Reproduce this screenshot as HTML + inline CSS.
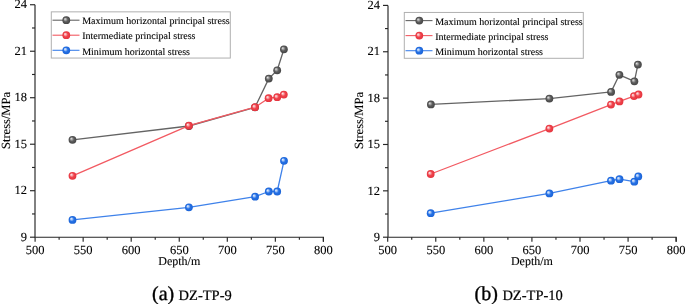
<!DOCTYPE html>
<html><head><meta charset="utf-8"><style>
html,body{margin:0;padding:0;background:#fff;}
svg{display:block;filter:blur(0.35px);}
text{font-family:"Liberation Serif",serif;fill:#000;text-rendering:geometricPrecision;stroke:#000;stroke-width:0.1px;}
</style></head><body>
<svg width="685" height="304" viewBox="0 0 685 304">
<defs>
<radialGradient id="gk" cx="0.5" cy="0.5" r="0.5" fx="0.32" fy="0.33">
<stop offset="0" stop-color="#ececec"/><stop offset="0.25" stop-color="#a8a8a8"/><stop offset="0.55" stop-color="#5e5e5e"/><stop offset="1" stop-color="#444"/></radialGradient>
<radialGradient id="gr" cx="0.5" cy="0.5" r="0.5" fx="0.32" fy="0.33">
<stop offset="0" stop-color="#fff0f1"/><stop offset="0.25" stop-color="#f8acb0"/><stop offset="0.55" stop-color="#f0444d"/><stop offset="1" stop-color="#e4333d"/></radialGradient>
<radialGradient id="gb" cx="0.5" cy="0.5" r="0.5" fx="0.32" fy="0.33">
<stop offset="0" stop-color="#eef4fe"/><stop offset="0.25" stop-color="#a6c6f6"/><stop offset="0.55" stop-color="#2672e6"/><stop offset="1" stop-color="#1b63d6"/></radialGradient>
</defs>
<rect width="685" height="304" fill="#fff"/>

<path d="M35.0,4.74 V237.2 H323.40 V241.7" fill="none" stroke="#262626" stroke-width="1.15"/>
<line x1="30.0" y1="237.20" x2="35.0" y2="237.20" stroke="#262626" stroke-width="1.15"/>
<text x="26.9" y="240.90" font-size="12.5" text-anchor="end">9</text>
<line x1="30.0" y1="190.71" x2="35.0" y2="190.71" stroke="#262626" stroke-width="1.15"/>
<text x="26.9" y="194.41" font-size="12.5" text-anchor="end">12</text>
<line x1="30.0" y1="144.22" x2="35.0" y2="144.22" stroke="#262626" stroke-width="1.15"/>
<text x="26.9" y="147.92" font-size="12.5" text-anchor="end">15</text>
<line x1="30.0" y1="97.72" x2="35.0" y2="97.72" stroke="#262626" stroke-width="1.15"/>
<text x="26.9" y="101.42" font-size="12.5" text-anchor="end">18</text>
<line x1="30.0" y1="51.23" x2="35.0" y2="51.23" stroke="#262626" stroke-width="1.15"/>
<text x="26.9" y="54.93" font-size="12.5" text-anchor="end">21</text>
<line x1="30.0" y1="4.74" x2="35.0" y2="4.74" stroke="#262626" stroke-width="1.15"/>
<text x="26.9" y="8.44" font-size="12.5" text-anchor="end">24</text>
<line x1="32.0" y1="213.95" x2="35.0" y2="213.95" stroke="#262626" stroke-width="1.15"/>
<line x1="32.0" y1="167.46" x2="35.0" y2="167.46" stroke="#262626" stroke-width="1.15"/>
<line x1="32.0" y1="120.97" x2="35.0" y2="120.97" stroke="#262626" stroke-width="1.15"/>
<line x1="32.0" y1="74.48" x2="35.0" y2="74.48" stroke="#262626" stroke-width="1.15"/>
<line x1="32.0" y1="27.99" x2="35.0" y2="27.99" stroke="#262626" stroke-width="1.15"/>
<line x1="35.10" y1="237.2" x2="35.10" y2="241.7" stroke="#262626" stroke-width="1.15"/>
<text x="35.10" y="254.2" font-size="12.5" text-anchor="middle">500</text>
<line x1="83.15" y1="237.2" x2="83.15" y2="241.7" stroke="#262626" stroke-width="1.15"/>
<text x="83.15" y="254.2" font-size="12.5" text-anchor="middle">550</text>
<line x1="131.20" y1="237.2" x2="131.20" y2="241.7" stroke="#262626" stroke-width="1.15"/>
<text x="131.20" y="254.2" font-size="12.5" text-anchor="middle">600</text>
<line x1="179.25" y1="237.2" x2="179.25" y2="241.7" stroke="#262626" stroke-width="1.15"/>
<text x="179.25" y="254.2" font-size="12.5" text-anchor="middle">650</text>
<line x1="227.30" y1="237.2" x2="227.30" y2="241.7" stroke="#262626" stroke-width="1.15"/>
<text x="227.30" y="254.2" font-size="12.5" text-anchor="middle">700</text>
<line x1="275.35" y1="237.2" x2="275.35" y2="241.7" stroke="#262626" stroke-width="1.15"/>
<text x="275.35" y="254.2" font-size="12.5" text-anchor="middle">750</text>
<line x1="323.40" y1="237.2" x2="323.40" y2="241.7" stroke="#262626" stroke-width="1.15"/>
<text x="323.40" y="254.2" font-size="12.5" text-anchor="middle">800</text>
<line x1="59.12" y1="237.2" x2="59.12" y2="239.7" stroke="#262626" stroke-width="1.15"/>
<line x1="107.18" y1="237.2" x2="107.18" y2="239.7" stroke="#262626" stroke-width="1.15"/>
<line x1="155.22" y1="237.2" x2="155.22" y2="239.7" stroke="#262626" stroke-width="1.15"/>
<line x1="203.27" y1="237.2" x2="203.27" y2="239.7" stroke="#262626" stroke-width="1.15"/>
<line x1="251.32" y1="237.2" x2="251.32" y2="239.7" stroke="#262626" stroke-width="1.15"/>
<line x1="299.38" y1="237.2" x2="299.38" y2="239.7" stroke="#262626" stroke-width="1.15"/>
<text x="179.25" y="265.4" font-size="12" text-anchor="middle">Depth/m</text>
<text transform="translate(9.600000000000001,120.5) rotate(-90)" font-size="12.5" text-anchor="middle">Stress/MPa</text>
<rect x="51.3" y="11.85" width="179" height="46.2" fill="#fff" stroke="#b0b0b0" stroke-width="1"/>
<line x1="52.5" y1="20.2" x2="79.5" y2="20.2" stroke="#646464" stroke-width="1.1"/>
<circle cx="66.3" cy="20.2" r="3.9" fill="url(#gk)"/>
<text x="82.19999999999999" y="24.4" font-size="10">Maximum horizontal principal stress</text>
<line x1="52.5" y1="35.2" x2="79.5" y2="35.2" stroke="#f25a62" stroke-width="1.1"/>
<circle cx="66.3" cy="35.2" r="3.9" fill="url(#gr)"/>
<text x="82.19999999999999" y="39.400000000000006" font-size="10">Intermediate principal stress</text>
<line x1="52.5" y1="50.3" x2="79.5" y2="50.3" stroke="#3f82ea" stroke-width="1.1"/>
<circle cx="66.3" cy="50.3" r="3.9" fill="url(#gb)"/>
<text x="82.19999999999999" y="54.5" font-size="10">Minimum horizontal stress</text>
<polyline points="72.5,139.8 188.9,126.0 255.0,107.30000000000001 268.8,78.60000000000001 277.2,70.30000000000001 283.9,49.3" fill="none" stroke="#646464" stroke-width="1.3" stroke-linejoin="round"/>
<circle cx="72.5" cy="139.8" r="3.9" fill="url(#gk)"/>
<circle cx="188.9" cy="126.0" r="3.9" fill="url(#gk)"/>
<circle cx="255.0" cy="107.30000000000001" r="3.9" fill="url(#gk)"/>
<circle cx="268.8" cy="78.60000000000001" r="3.9" fill="url(#gk)"/>
<circle cx="277.2" cy="70.30000000000001" r="3.9" fill="url(#gk)"/>
<circle cx="283.9" cy="49.3" r="3.9" fill="url(#gk)"/>

<polyline points="72.5,175.8 188.9,125.7 255.0,107.2 268.6,98.2 277.2,97.2 283.8,94.60000000000001" fill="none" stroke="#f25a62" stroke-width="1.3" stroke-linejoin="round"/>
<circle cx="72.5" cy="175.8" r="3.9" fill="url(#gr)"/>
<circle cx="188.9" cy="125.7" r="3.9" fill="url(#gr)"/>
<circle cx="255.0" cy="107.2" r="3.9" fill="url(#gr)"/>
<circle cx="268.6" cy="98.2" r="3.9" fill="url(#gr)"/>
<circle cx="277.2" cy="97.2" r="3.9" fill="url(#gr)"/>
<circle cx="283.8" cy="94.60000000000001" r="3.9" fill="url(#gr)"/>

<polyline points="72.5,219.9 188.9,207.3 255.1,196.70000000000002 268.8,191.5 277.2,191.5 284.0,160.8" fill="none" stroke="#3f82ea" stroke-width="1.3" stroke-linejoin="round"/>
<circle cx="72.5" cy="219.9" r="3.9" fill="url(#gb)"/>
<circle cx="188.9" cy="207.3" r="3.9" fill="url(#gb)"/>
<circle cx="255.1" cy="196.70000000000002" r="3.9" fill="url(#gb)"/>
<circle cx="268.8" cy="191.5" r="3.9" fill="url(#gb)"/>
<circle cx="277.2" cy="191.5" r="3.9" fill="url(#gb)"/>
<circle cx="284.0" cy="160.8" r="3.9" fill="url(#gb)"/>

<path d="M388.0,5.4 V237.2 H676.15 V241.7" fill="none" stroke="#262626" stroke-width="1.15"/>
<line x1="383.0" y1="237.20" x2="388.0" y2="237.20" stroke="#262626" stroke-width="1.15"/>
<text x="379.9" y="240.90" font-size="12.5" text-anchor="end">9</text>
<line x1="383.0" y1="190.84" x2="388.0" y2="190.84" stroke="#262626" stroke-width="1.15"/>
<text x="379.9" y="194.54" font-size="12.5" text-anchor="end">12</text>
<line x1="383.0" y1="144.48" x2="388.0" y2="144.48" stroke="#262626" stroke-width="1.15"/>
<text x="379.9" y="148.18" font-size="12.5" text-anchor="end">15</text>
<line x1="383.0" y1="98.12" x2="388.0" y2="98.12" stroke="#262626" stroke-width="1.15"/>
<text x="379.9" y="101.82" font-size="12.5" text-anchor="end">18</text>
<line x1="383.0" y1="51.76" x2="388.0" y2="51.76" stroke="#262626" stroke-width="1.15"/>
<text x="379.9" y="55.46" font-size="12.5" text-anchor="end">21</text>
<line x1="383.0" y1="5.40" x2="388.0" y2="5.40" stroke="#262626" stroke-width="1.15"/>
<text x="379.9" y="9.10" font-size="12.5" text-anchor="end">24</text>
<line x1="385.0" y1="214.02" x2="388.0" y2="214.02" stroke="#262626" stroke-width="1.15"/>
<line x1="385.0" y1="167.66" x2="388.0" y2="167.66" stroke="#262626" stroke-width="1.15"/>
<line x1="385.0" y1="121.30" x2="388.0" y2="121.30" stroke="#262626" stroke-width="1.15"/>
<line x1="385.0" y1="74.94" x2="388.0" y2="74.94" stroke="#262626" stroke-width="1.15"/>
<line x1="385.0" y1="28.58" x2="388.0" y2="28.58" stroke="#262626" stroke-width="1.15"/>
<line x1="387.70" y1="237.2" x2="387.70" y2="241.7" stroke="#262626" stroke-width="1.15"/>
<text x="387.70" y="254.2" font-size="12.5" text-anchor="middle">500</text>
<line x1="435.77" y1="237.2" x2="435.77" y2="241.7" stroke="#262626" stroke-width="1.15"/>
<text x="435.77" y="254.2" font-size="12.5" text-anchor="middle">550</text>
<line x1="483.85" y1="237.2" x2="483.85" y2="241.7" stroke="#262626" stroke-width="1.15"/>
<text x="483.85" y="254.2" font-size="12.5" text-anchor="middle">600</text>
<line x1="531.92" y1="237.2" x2="531.92" y2="241.7" stroke="#262626" stroke-width="1.15"/>
<text x="531.92" y="254.2" font-size="12.5" text-anchor="middle">650</text>
<line x1="580.00" y1="237.2" x2="580.00" y2="241.7" stroke="#262626" stroke-width="1.15"/>
<text x="580.00" y="254.2" font-size="12.5" text-anchor="middle">700</text>
<line x1="628.08" y1="237.2" x2="628.08" y2="241.7" stroke="#262626" stroke-width="1.15"/>
<text x="628.08" y="254.2" font-size="12.5" text-anchor="middle">750</text>
<line x1="676.15" y1="237.2" x2="676.15" y2="241.7" stroke="#262626" stroke-width="1.15"/>
<text x="676.15" y="254.2" font-size="12.5" text-anchor="middle">800</text>
<line x1="411.74" y1="237.2" x2="411.74" y2="239.7" stroke="#262626" stroke-width="1.15"/>
<line x1="459.81" y1="237.2" x2="459.81" y2="239.7" stroke="#262626" stroke-width="1.15"/>
<line x1="507.89" y1="237.2" x2="507.89" y2="239.7" stroke="#262626" stroke-width="1.15"/>
<line x1="555.96" y1="237.2" x2="555.96" y2="239.7" stroke="#262626" stroke-width="1.15"/>
<line x1="604.04" y1="237.2" x2="604.04" y2="239.7" stroke="#262626" stroke-width="1.15"/>
<line x1="652.11" y1="237.2" x2="652.11" y2="239.7" stroke="#262626" stroke-width="1.15"/>
<text x="531.92" y="265.4" font-size="12" text-anchor="middle">Depth/m</text>
<text transform="translate(362.6,120.5) rotate(-90)" font-size="12.5" text-anchor="middle">Stress/MPa</text>
<rect x="404.3" y="12.45" width="179" height="45.85" fill="#fff" stroke="#b0b0b0" stroke-width="1"/>
<line x1="405.5" y1="20.599999999999998" x2="432.5" y2="20.599999999999998" stroke="#646464" stroke-width="1.1"/>
<circle cx="419.3" cy="20.599999999999998" r="3.9" fill="url(#gk)"/>
<text x="435.2" y="24.799999999999997" font-size="10">Maximum horizontal principal stress</text>
<line x1="405.5" y1="35.6" x2="432.5" y2="35.6" stroke="#f25a62" stroke-width="1.1"/>
<circle cx="419.3" cy="35.6" r="3.9" fill="url(#gr)"/>
<text x="435.2" y="39.800000000000004" font-size="10">Intermediate principal stress</text>
<line x1="405.5" y1="50.699999999999996" x2="432.5" y2="50.699999999999996" stroke="#3f82ea" stroke-width="1.1"/>
<circle cx="419.3" cy="50.699999999999996" r="3.9" fill="url(#gb)"/>
<text x="435.2" y="54.9" font-size="10">Minimum horizontal stress</text>
<polyline points="430.9,104.4 549.4,98.60000000000001 611.1,91.9 619.4,74.80000000000001 634.4,81.30000000000001 637.9,64.60000000000001" fill="none" stroke="#646464" stroke-width="1.3" stroke-linejoin="round"/>
<circle cx="430.9" cy="104.4" r="3.9" fill="url(#gk)"/>
<circle cx="549.4" cy="98.60000000000001" r="3.9" fill="url(#gk)"/>
<circle cx="611.1" cy="91.9" r="3.9" fill="url(#gk)"/>
<circle cx="619.4" cy="74.80000000000001" r="3.9" fill="url(#gk)"/>
<circle cx="634.4" cy="81.30000000000001" r="3.9" fill="url(#gk)"/>
<circle cx="637.9" cy="64.60000000000001" r="3.9" fill="url(#gk)"/>

<polyline points="430.7,174.0 549.4,128.6 611.0,104.60000000000001 619.5,101.4 634.0,96.10000000000001 638.5,94.5" fill="none" stroke="#f25a62" stroke-width="1.3" stroke-linejoin="round"/>
<circle cx="430.7" cy="174.0" r="3.9" fill="url(#gr)"/>
<circle cx="549.4" cy="128.6" r="3.9" fill="url(#gr)"/>
<circle cx="611.0" cy="104.60000000000001" r="3.9" fill="url(#gr)"/>
<circle cx="619.5" cy="101.4" r="3.9" fill="url(#gr)"/>
<circle cx="634.0" cy="96.10000000000001" r="3.9" fill="url(#gr)"/>
<circle cx="638.5" cy="94.5" r="3.9" fill="url(#gr)"/>

<polyline points="430.7,213.20000000000002 549.4,193.4 611.0,180.70000000000002 619.5,179.20000000000002 634.3,181.70000000000002 638.3,176.4" fill="none" stroke="#3f82ea" stroke-width="1.3" stroke-linejoin="round"/>
<circle cx="430.7" cy="213.20000000000002" r="3.9" fill="url(#gb)"/>
<circle cx="549.4" cy="193.4" r="3.9" fill="url(#gb)"/>
<circle cx="611.0" cy="180.70000000000002" r="3.9" fill="url(#gb)"/>
<circle cx="619.5" cy="179.20000000000002" r="3.9" fill="url(#gb)"/>
<circle cx="634.3" cy="181.70000000000002" r="3.9" fill="url(#gb)"/>
<circle cx="638.3" cy="176.4" r="3.9" fill="url(#gb)"/>

<text x="152.0" y="300.2" font-size="20" style="stroke-width:0.35px">(a)</text>
<text x="178.6" y="300.0" font-size="14.5" style="stroke-width:0.2px">DZ-TP-9</text>
<text x="474.6" y="300.2" font-size="20" style="stroke-width:0.35px">(b)</text>
<text x="502.4" y="300.0" font-size="14.5" style="stroke-width:0.2px">DZ-TP-10</text>
</svg></body></html>
